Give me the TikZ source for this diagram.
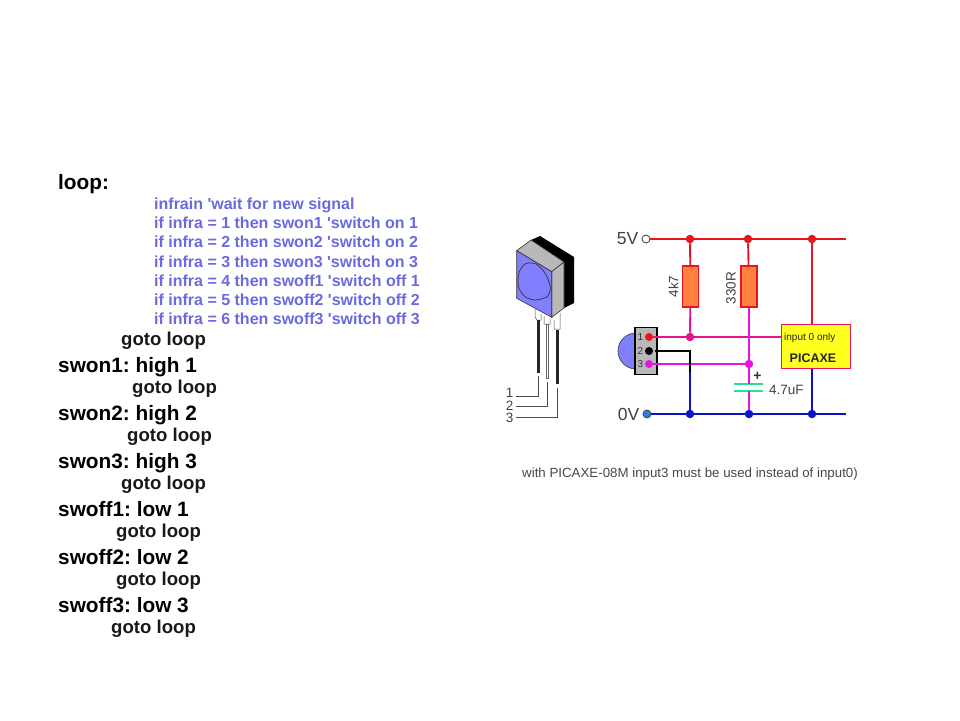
\documentclass[tikz,border=0pt]{standalone}
\usepackage{fontspec}
\setmainfont{Liberation Sans}[Ligatures=TeXOff]
\usetikzlibrary{positioning}
\definecolor{codeblue}{HTML}{6A6AE0}
\definecolor{railred}{HTML}{E8141E}
\definecolor{railblue}{HTML}{0A14C8}
\definecolor{hotpink}{HTML}{E4148C}
\definecolor{chipedge}{HTML}{E81464}
\definecolor{purewire}{HTML}{E614E0}
\definecolor{lensblue}{HTML}{8080FF}
\definecolor{resfill}{HTML}{FF8040}
\definecolor{capgreen}{HTML}{28E090}
\definecolor{chipyellow}{HTML}{FFFF20}
\definecolor{termblue}{HTML}{2A80E0}
\tikzset{
  head/.style={anchor=base west, inner sep=0pt, font=\fontsize{20.8}{22}\selectfont\bfseries},
  gotoline/.style={anchor=base west, inner sep=0pt, font=\fontsize{18.6}{20}\selectfont\bfseries, text=black!90},
  codeline/.style={anchor=base west, inner sep=0pt, text=codeblue, font=\fontsize{16}{18}\selectfont\bfseries},
  rail/.style={line width=1.9pt},
  junction/.style={circle, inner sep=0pt, minimum size=8.5pt},
  terminal/.style={circle, draw=black!70, line width=0.9pt, inner sep=0pt, minimum size=8pt},
  resistor/.style={rectangle, draw=railred, fill=resfill, line width=1.7pt, inner sep=0pt, minimum width=16pt, minimum height=41pt},
  label/.style={inner sep=0pt, text=black!75, font=\fontsize{13.5}{14}\selectfont},
  bigvolt/.style={inner sep=0pt, text=black!75, font=\fontsize{17.5}{18}\selectfont},
  pinnum/.style={inner sep=0pt, text=black!80, font=\fontsize{10}{10}\selectfont},
  leader/.style={draw=black!70, line width=0.8pt},
}
\frenchspacing
\begin{document}
\begin{tikzpicture}[x=1pt, y=-1pt]
  \useasboundingbox (0,0) rectangle (960,720);

  % Code listing
  \node[head] (looplabel) at (58,189) {loop:};
  \foreach \name/\ypos/\txt in {
      c0/209/{infrain 'wait for new signal},
      c1/228/{if infra = 1 then swon1 'switch on 1},
      c2/247.5/{if infra = 2 then swon2 'switch on 2},
      c3/267/{if infra = 3 then swon3 'switch on 3},
      c4/286/{if infra = 4 then swoff1 'switch off 1},
      c5/305/{if infra = 5 then swoff2 'switch off 2},
      c6/324/{if infra = 6 then swoff3 'switch off 3}}
    \node[codeline] (\name) at (154,\ypos) {\txt};
  \foreach \name/\ypos/\txt in {
      h1/372/{swon1: high 1}, h2/420/{swon2: high 2}, h3/468/{swon3: high 3},
      h4/516/{swoff1: low 1}, h5/564/{swoff2: low 2}, h6/612/{swoff3: low 3}}
    \node[head] (\name) at (58,\ypos) {\txt};
  \foreach \name/\xpos/\ypos in {
      g0/121/345, g1/132/393, g2/127/441, g3/121/489, g4/116/537, g5/116/585, g6/111/633}
    \node[gotoline] (\name) at (\xpos,\ypos) {goto loop};

  % Sensor body
  \fill[black] (531,240) -- (540,236) -- (574,257) -- (574,303) -- (564,308) -- (564,262) -- cycle;
  \draw[black!80, fill=black!28, line width=0.6pt] (516.7,250.7) -- (531,240) -- (564,262) -- (551.7,271.7) -- cycle;
  \draw[black!80, fill=black!28, line width=0.6pt] (551.7,271.7) -- (564,262) -- (564,308) -- (551.7,317.3) -- cycle;
  \draw[black!80, fill=lensblue, line width=0.6pt] (516.7,250.7) -- (551.7,271.7) -- (551.7,317.3) -- (516.7,298.3) -- cycle;
  \draw[black!80, fill=lensblue, line width=0.7pt] plot[smooth cycle, tension=0.8] coordinates
    {(518,280) (522,267) (531,263) (541,268) (549,282) (549,294) (541,299) (530,299) (521,292)};

  % Sensor legs
  \draw[black!70, line width=0.5pt] (535,309) -- (535,317) -- (537,320) -- (541,320) -- (541,314)
    (544,316) -- (544,324) -- (550,324) -- (550,319)
    (554,320) -- (554,329) -- (560,329) -- (560,313);
  \draw[black!85, line width=2.6pt] (538.7,320) -- (538.7,373) (557.3,330) -- (557.3,384);
  \draw[black!60, line width=0.6pt] (546,324) rectangle (548.5,378);

  % Leg leaders
  \node[label] (leg1) at (509.5,393) {1};
  \node[label] (leg2) at (509.5,405.5) {2};
  \node[label] (leg3) at (509.5,418) {3};
  \coordinate (top1) at (538.7,376);
  \coordinate (top2) at (547.3,382);
  \coordinate (top3) at (557.3,388);
  \draw[leader] (top1) |- ([xshift=3pt]leg1.east |- 0,396);
  \draw[leader] (top2) |- ([xshift=3pt]leg2.east |- 0,406);
  \draw[leader] (top3) |- ([xshift=3pt]leg3.east |- 0,417);

  % Rails and junctions
  \node[terminal, fill=white] (vplus) at (646,239) {};
  \node[terminal, fill=termblue] (vzero) at (647,414) {};
  \node[bigvolt, left=3pt of vplus] (vplustxt) {5V};
  \node[bigvolt, left=3pt of vzero] (vzerotxt) {0V};
  \coordinate (railend1) at (846,239);
  \coordinate (railend2) at (846,414);
  \node[junction, fill=railred] (t1) at (690,239) {};
  \node[junction, fill=railred] (t2) at (748,239) {};
  \node[junction, fill=railred] (t3) at (812,239) {};
  \node[junction, fill=railblue] (b1) at (690,414) {};
  \node[junction, fill=railblue] (b2) at (749,414) {};
  \node[junction, fill=railblue] (b3) at (812,414) {};
  \node[resistor] (r1) at (690.5,286.5) {};
  \node[resistor] (r2) at (749,286.5) {};
  \node[label, rotate=90, anchor=south] (r1txt) at (678.5,286.5) {4k7};
  \node[label, rotate=90, anchor=south] (r2txt) at (736,288) {330R};
  \node[junction, fill=hotpink] (m1) at (690,337) {};
  \node[junction, fill=purewire] (m2) at (749,364) {};

  % Sensor in the schematic
  \draw[black!80, fill=lensblue, line width=0.6pt] (636,333) arc[start angle=90, end angle=270, x radius=18pt, y radius=18pt] -- cycle;
  \node[rectangle, draw=black, fill=black!28, line width=1.8pt, minimum width=22pt, minimum height=47pt, inner sep=0pt] (irbox) at (646,351) {};
  \node[junction, minimum size=8pt, fill=railred] (p1) at (649,337) {};
  \node[junction, minimum size=8pt, fill=black] (p2) at (649,351) {};
  \node[junction, minimum size=8pt, fill=purewire] (p3) at (649,364) {};
  \node[pinnum, left=1.5pt of p1] (p1txt) {1};
  \node[pinnum, left=1.5pt of p2] (p2txt) {2};
  \node[pinnum, left=1.5pt of p3] (p3txt) {3};

  % Capacitor
  \coordinate (capa) at (749,384);
  \coordinate (capb) at (749,391);
  \draw[capgreen, line width=2pt] ([xshift=-15pt]capa) -- ([xshift=14pt]capa)
    ([xshift=-15pt]capb) -- ([xshift=14pt]capb);
  \node[inner sep=0pt, text=black!80, font=\fontsize{14}{14}\selectfont\bfseries] (capplus) at (757.5,376) {+};
  \node[label, anchor=west] (captxt) at (769,389.5) {4.7uF};

  % Wires
  \coordinate (bend2) at (690,351);
  \coordinate (bend3) at (690,372);
  \coordinate (chiptop) at (812,324);
  \coordinate (chipbot) at (812,369);
  \coordinate (chipin) at (781,337);
  \draw[rail, railred] (vplus) -- (railend1);
  \draw[rail, railred] (t1) -- (r1);
  \draw[rail, railred] (t2) -- (r2);
  \draw[rail, railred] (t3) -- (chiptop);
  \draw[rail, railblue] (vzero) -- (railend2);
  \draw[rail, railblue] (chipbot) -- (b3);
  \draw[rail, railblue] (bend3) -- (b1);
  \draw[rail, hotpink] (p1) -- (chipin);
  \draw[rail, hotpink] (r1) -- (m1);
  \draw[rail, purewire] (p3) -- (m2);
  \draw[rail, purewire] (r2) -- (capa);
  \draw[rail, purewire] (capb) -- (b2);
  \draw[line width=1.3pt, black] (p2.east) ++(2pt,0) -- (bend2) -- (bend3);

  % Chip
  \node[rectangle, draw=chipedge, fill=chipyellow, line width=1.9pt, minimum width=69pt, minimum height=44pt, inner sep=0pt] (chip) at (816,346.5) {};
  \node[inner sep=0pt, anchor=base west, font=\fontsize{10}{10}\selectfont, text=black!85] (chiptxt1) at (784,340) {input 0 only};
  \node[inner sep=0pt, anchor=base west, font=\fontsize{12.5}{13}\selectfont\bfseries, text=black!85] (chiptxt2) at (789.5,362) {PICAXE};

  % Note
  \node[anchor=base west, inner sep=0pt, text=black!72, font=\fontsize{13.3}{14}\selectfont] (note) at (522,477) {with PICAXE-08M input3 must be used instead of input0)};
\end{tikzpicture}
\end{document}
